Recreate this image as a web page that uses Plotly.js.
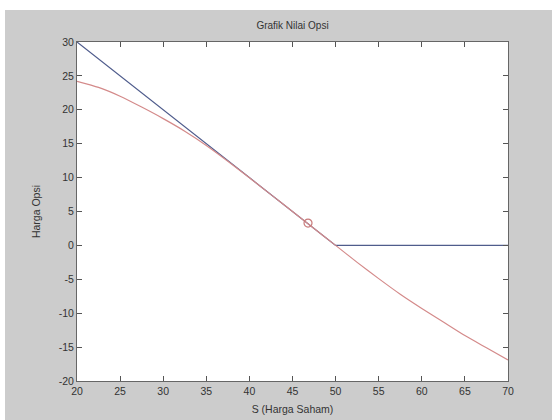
<!DOCTYPE html>
<html>
<head>
<meta charset="utf-8">
<script src="https://cdn.plot.ly/plotly-3.0.1.min.js"></script>
<style>
html,body{margin:0;padding:0;background:#ffffff;width:552px;height:420px;overflow:hidden;}
#chart{position:absolute;left:5px;top:10px;width:547px;height:410px;}
</style>
</head>
<body>
<div id="chart"></div>
<script>
// Blue line: payoff
const payoffS = [20, 50, 70];
const payoffV = [30, 0, 0];
// Red curve: option value
const valueS = [20, 22.5, 25, 27.5, 30, 32.5, 35, 37.5, 40, 42.5, 45, 47.5, 50, 52.5, 55, 57.5, 60, 62.5, 65, 67.5, 70];
const valueV = [24.2, 23.3, 22.0, 20.4, 18.7, 16.85, 14.75, 12.42, 9.98, 7.49, 4.99, 2.5, 0.0, -2.5, -4.9, -7.2, -9.3, -11.3, -13.3, -15.1, -16.9];
// Marked point
const pointS = [46.8];
const pointV = [3.3];
const xTicks = [20, 25, 30, 35, 40, 45, 50, 55, 60, 65, 70];
const yTicks = [-20, -15, -10, -5, 0, 5, 10, 15, 20, 25, 30];

const traces = [
  {x: payoffS, y: payoffV, type: 'scatter', mode: 'lines', line: {color: '#4f5c8c', width: 1.2}, hoverinfo: 'skip'},
  {x: valueS, y: valueV, type: 'scatter', mode: 'lines', line: {color: '#d48a8a', width: 1.2, shape: 'spline', smoothing: 0.6}, hoverinfo: 'skip'},
  {x: pointS, y: pointV, type: 'scatter', mode: 'markers', marker: {symbol: 'circle-open', size: 8, color: '#c87a7a', line: {width: 1.2}}, hoverinfo: 'skip'}
];

const fontFam = 'Liberation Sans, Arial, sans-serif';
const axisCommon = {
  showgrid: false, zeroline: false, showline: true, linecolor: '#666666', linewidth: 1,
  mirror: 'ticks', ticks: 'inside', ticklen: 5, tickcolor: '#555555', tickwidth: 1,
  tickfont: {family: fontFam, size: 10.5, color: '#333333'},
  automargin: false
};

const layout = {
  width: 547, height: 410,
  paper_bgcolor: '#cccccc', plot_bgcolor: '#ffffff',
  margin: {l: 72, r: 44, t: 32, b: 38.5},
  showlegend: false,
  title: {text: 'Grafik Nilai Opsi', x: 0.5, xref: 'paper', xanchor: 'center', y: 1 - 15/410, yref: 'container', yanchor: 'middle',
          font: {family: fontFam, size: 10, color: '#333333'}},
  xaxis: Object.assign({}, axisCommon, {range: [20, 70], tickvals: xTicks, ticktext: xTicks.map(String),
          title: {text: 'S (Harga Saham)', standoff: 10, font: {family: fontFam, size: 10.5, color: '#333333'}}}),
  yaxis: Object.assign({}, axisCommon, {range: [-20, 30], tickvals: yTicks, ticktext: yTicks.map(String),
          title: {text: 'Harga Opsi', standoff: 16, font: {family: fontFam, size: 10.5, color: '#333333'}}})
};

Plotly.newPlot('chart', traces, layout, {staticPlot: true, displayModeBar: false});
</script>
</body>
</html>
